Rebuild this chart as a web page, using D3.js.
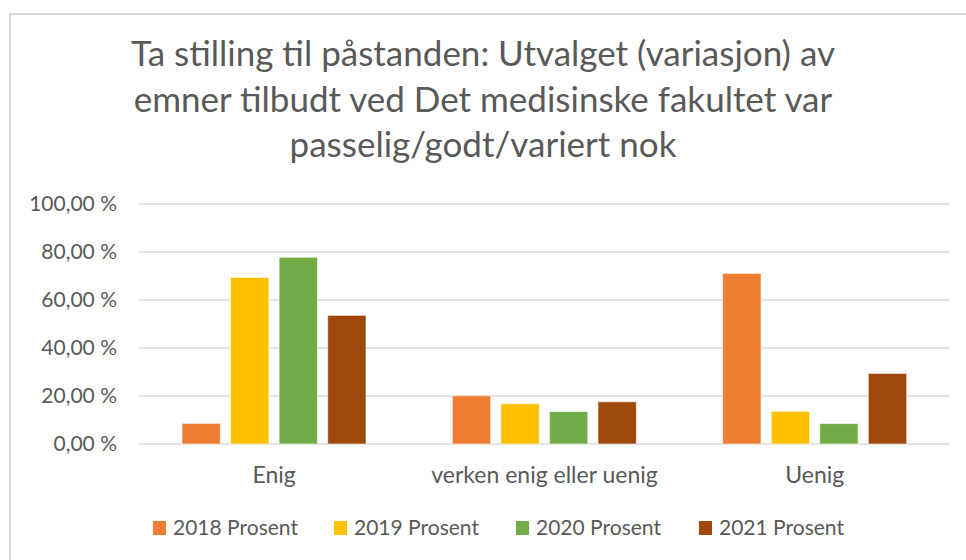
<!DOCTYPE html>
<html>
<head>
<meta charset="utf-8">
<script src="https://cdn.jsdelivr.net/npm/d3@7"></script>
<style>
  body { margin: 0; background: #fff; }
  text { font-family: Lato, "Open Sans", sans-serif; fill: #595959; }
</style>
</head>
<body>
<script>
// data
var categories = ["Enig", "verken enig eller uenig", "Uenig"];
var seriesNames = ["2018 Prosent", "2019 Prosent", "2020 Prosent", "2021 Prosent"];
var values2018 = [8.6, 20.1, 71.1];
var values2019 = [69.4, 16.8, 13.6];
var values2020 = [77.8, 13.5, 8.5];
var values2021 = [53.6, 17.6, 29.4];
var yTicks = [0, 20, 40, 60, 80, 100];
var titleLines = [
  "Ta stilling til påstanden: Utvalget (variasjon) av",
  "emner tilbudt ved Det medisinske fakultet var",
  "passelig/godt/variert nok"
];
var colors = ["#ED7D31", "#FFC000", "#70AD47", "#9E480E"];

var seriesValues = [values2018, values2019, values2020, values2021];

var width = 966, height = 560;
var margin = {top: 204, right: 16, bottom: 116, left: 139};

var svg = d3.select("body").append("svg")
    .attr("width", width)
    .attr("height", height);

// chart border
svg.append("rect")
    .attr("x", 10).attr("y", 14)
    .attr("width", 980).attr("height", 580)
    .attr("fill", "none")
    .attr("stroke", "#d9d9d9")
    .attr("stroke-width", 2);

// title
svg.append("g").selectAll("text")
    .data(titleLines)
    .enter().append("text")
    .attr("x", 483)
    .attr("y", function(d, i) { return 66 + i * 45.5; })
    .attr("text-anchor", "middle")
    .style("font-size", "35px")
    .text(function(d) { return d; });

var x0 = d3.scaleBand()
    .domain(categories)
    .range([margin.left, width - margin.right]);

var x1 = d3.scaleBand()
    .domain(d3.range(seriesNames.length))
    .range([43, 227])
    .paddingInner(0.21);

var y = d3.scaleLinear()
    .domain([0, 100])
    .range([height - margin.bottom, margin.top]);

// gridlines
svg.append("g")
    .selectAll("line")
    .data(yTicks)
    .enter().append("line")
    .attr("x1", margin.left)
    .attr("x2", width - margin.right)
    .attr("y1", function(d) { return y(d); })
    .attr("y2", function(d) { return y(d); })
    .attr("stroke", "#d9d9d9")
    .attr("stroke-width", 1.5);

// y axis labels
var yAxis = d3.axisLeft(y)
    .tickValues(yTicks)
    .tickSize(0)
    .tickPadding(0)
    .tickFormat(function(d) { return d3.format(".2f")(d).replace(".", ",") + " %"; });

svg.append("g")
    .attr("transform", "translate(117,0)")
    .call(yAxis)
    .call(function(g) { g.select(".domain").remove(); })
    .attr("font-size", null)
    .attr("font-family", null)
    .selectAll("text")
    .style("font-size", "21px")
    .attr("fill", "#595959");

// bars
var groups = svg.append("g")
    .selectAll("g")
    .data(categories)
    .enter().append("g")
    .attr("transform", function(d) { return "translate(" + x0(d) + ",0)"; });

groups.selectAll("rect")
    .data(function(d, ci) {
      return seriesValues.map(function(s, si) { return {si: si, v: s[ci]}; });
    })
    .enter().append("rect")
    .attr("x", function(d) { return x1(d.si); })
    .attr("width", x1.bandwidth())
    .attr("y", function(d) { return y(d.v); })
    .attr("height", function(d) { return y(0) - y(d.v); })
    .attr("fill", function(d) { return colors[d.si]; })
    .attr("stroke", "#fff")
    .attr("stroke-opacity", 0.6)
    .attr("stroke-width", 1);

// x axis labels
var xAxis = d3.axisBottom(x0).tickSize(0).tickPadding(0);
svg.append("g")
    .attr("transform", "translate(0," + 483 + ")")
    .call(xAxis)
    .call(function(g) { g.select(".domain").remove(); })
    .attr("font-size", null)
    .attr("font-family", null)
    .selectAll("text")
    .attr("dy", 0)
    .style("font-size", "23px")
    .attr("fill", "#595959");

// legend
var legendX = [153, 334, 516, 699];
var legend = svg.append("g")
    .selectAll("g")
    .data(seriesNames)
    .enter().append("g")
    .attr("transform", function(d, i) { return "translate(" + legendX[i] + ",521)"; });

legend.append("rect")
    .attr("width", 13).attr("height", 14)
    .attr("fill", function(d, i) { return colors[i]; });

legend.append("text")
    .attr("x", 20)
    .attr("y", 14)
    .style("font-size", "21px")
    .text(function(d) { return d; });
</script>
</body>
</html>
